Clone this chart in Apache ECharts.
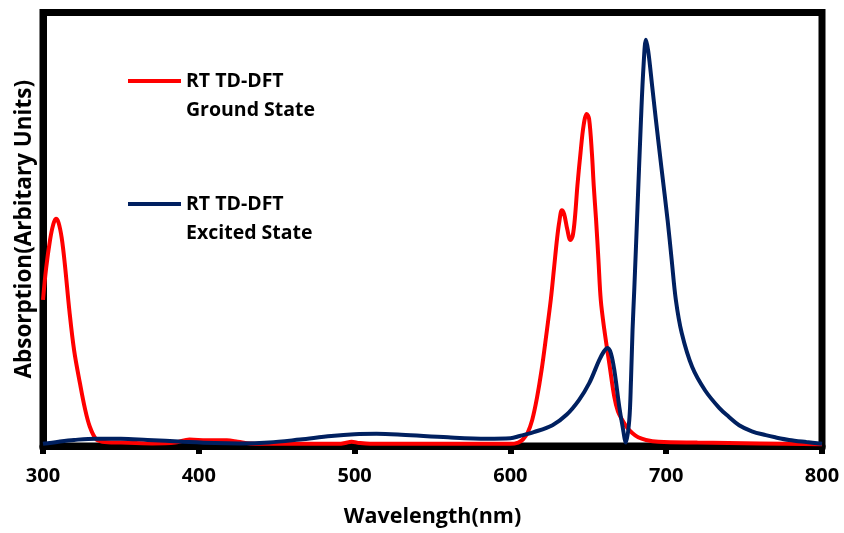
<!DOCTYPE html>
<html>
<head>
<meta charset="utf-8">
<script src="https://cdn.jsdelivr.net/npm/echarts@6/dist/echarts.min.js"></script>
<style>
  html, body { margin: 0; padding: 0; background: #fff; }
  #chart { width: 844px; height: 533px; }
</style>
</head>
<body>
<div id="chart"></div>
<script>
// Absorption spectra computed with RT TD-DFT (arbitrary units, 0..1)
const xTicks = [300, 400, 500, 600, 700, 800];

const groundWl = [300, 302, 304.5, 306.5, 308.3, 310, 312, 314, 317, 320, 323.7, 327, 330, 334, 338, 350, 370, 385, 394, 405, 418, 425, 433, 450, 490, 494, 498, 503, 510, 560, 600, 605, 608, 611, 614, 617, 620, 623, 626, 628, 630, 631.5, 633, 634.5, 636.5, 638.5, 640, 641.5, 643, 645, 647, 649, 650.5, 652.3, 653.5, 655, 656.5, 658, 660.3, 663.5, 666.7, 669, 671.8, 675, 678.2, 682, 687, 695, 720, 760, 800];
const groundAbs = [0.337, 0.41, 0.475, 0.51, 0.524, 0.515, 0.48, 0.42, 0.31, 0.22, 0.145, 0.085, 0.045, 0.016, 0.01, 0.008, 0.006, 0.008, 0.015, 0.013, 0.013, 0.01, 0.006, 0.005, 0.005, 0.007, 0.01, 0.007, 0.005, 0.005, 0.005, 0.008, 0.015, 0.03, 0.06, 0.11, 0.175, 0.255, 0.34, 0.41, 0.48, 0.52, 0.544, 0.535, 0.5, 0.475, 0.485, 0.53, 0.6, 0.676, 0.74, 0.766, 0.755, 0.676, 0.6, 0.521, 0.43, 0.337, 0.268, 0.19, 0.113, 0.08, 0.06, 0.042, 0.03, 0.02, 0.014, 0.01, 0.008, 0.006, 0.004];

const excitedWl = [300, 310, 320, 334, 350, 367, 390, 410, 426, 445, 465, 485, 500, 514, 530, 560, 585, 600, 606, 615, 627, 636, 644, 650.6, 657, 660, 662.4, 664.5, 666.7, 669.9, 672, 674.1, 676.3, 677.4, 678.4, 679.5, 681.6, 683.8, 685.5, 687, 688.5, 691, 693.4, 697, 700.9, 703.5, 706.2, 710, 716.7, 725, 734, 740, 746.8, 755, 763.9, 770, 778.8, 790, 800];
const excitedAbs = [0.005, 0.01, 0.014, 0.017, 0.017, 0.014, 0.01, 0.007, 0.006, 0.008, 0.015, 0.023, 0.027, 0.028, 0.026, 0.02, 0.017, 0.018, 0.023, 0.032, 0.048, 0.072, 0.106, 0.145, 0.198, 0.218, 0.226, 0.214, 0.175, 0.09, 0.045, 0.008, 0.06, 0.152, 0.268, 0.36, 0.551, 0.752, 0.88, 0.937, 0.91, 0.83, 0.752, 0.64, 0.521, 0.43, 0.337, 0.26, 0.182, 0.128, 0.088, 0.068, 0.048, 0.034, 0.025, 0.02, 0.014, 0.009, 0.005];

const groundName = 'RT TD-DFT Ground State';
const excitedName = 'RT TD-DFT Excited State';
const RED = '#ff0000';
const NAVY = '#002060';
const FONT = '"Open Sans", "Noto Sans", sans-serif';

const zip = (xs, ys) => xs.map((x, i) => [x, ys[i]]);

const chart = echarts.init(document.getElementById('chart'));

// Hand-placed key: a short line sample followed by a two-line caption
const legendItems = [
  { color: RED, y: 81, lines: ['RT TD-DFT', 'Ground State'] },
  { color: NAVY, y: 204, lines: ['RT TD-DFT', 'Excited State'] }
];
const graphic = [];
legendItems.forEach(item => {
  graphic.push({
    type: 'line',
    shape: { x1: 128, y1: item.y, x2: 181, y2: item.y },
    style: { stroke: item.color, lineWidth: 4 }
  });
  item.lines.forEach((t, k) => {
    graphic.push({
      type: 'text',
      x: 186,
      y: item.y + k * 29,
      style: {
        text: t,
        fill: '#000',
        font: 'bold 19.5px ' + FONT,
        textVerticalAlign: 'middle'
      }
    });
  });
});

chart.setOption({
  animation: false,
  backgroundColor: '#fff',
  grid: {
    left: 43, right: 22, top: 12.5, bottom: 87,
    show: true, borderColor: '#000', borderWidth: 7, backgroundColor: 'transparent'
  },
  xAxis: {
    type: 'value',
    min: xTicks[0],
    max: xTicks[xTicks.length - 1],
    interval: 100,
    name: 'Wavelength(nm)',
    nameLocation: 'middle',
    nameGap: 60,
    nameTextStyle: { fontFamily: FONT, fontWeight: 'bold', fontSize: 21.5, color: '#000' },
    axisLine: { show: true, lineStyle: { color: '#000', width: 7 } },
    axisTick: { show: true, length: 8, lineStyle: { color: '#000', width: 6 } },
    axisLabel: { fontFamily: FONT, fontWeight: 'bold', fontSize: 20, color: '#000', margin: 20 },
    splitLine: { show: false }
  },
  yAxis: {
    type: 'value',
    min: 0,
    max: 1,
    name: 'Absorption(Arbitary Units)',
    nameLocation: 'middle',
    nameGap: 7,
    nameTextStyle: { fontFamily: FONT, fontWeight: 'bold', fontSize: 22.5, color: '#000' },
    axisLine: { show: true, lineStyle: { color: '#000', width: 7 } },
    axisTick: { show: false },
    axisLabel: { show: false },
    splitLine: { show: false }
  },
  graphic: graphic,
  series: [
    {
      name: groundName,
      type: 'line',
      data: zip(groundWl, groundAbs),
      smooth: 0.35,
      showSymbol: false,
      lineStyle: { color: RED, width: 4 },
      itemStyle: { color: RED },
      z: 3
    },
    {
      name: excitedName,
      type: 'line',
      data: zip(excitedWl, excitedAbs),
      smooth: 0.35,
      showSymbol: false,
      lineStyle: { color: NAVY, width: 4 },
      itemStyle: { color: NAVY },
      z: 4
    }
  ]
});
</script>
</body>
</html>
